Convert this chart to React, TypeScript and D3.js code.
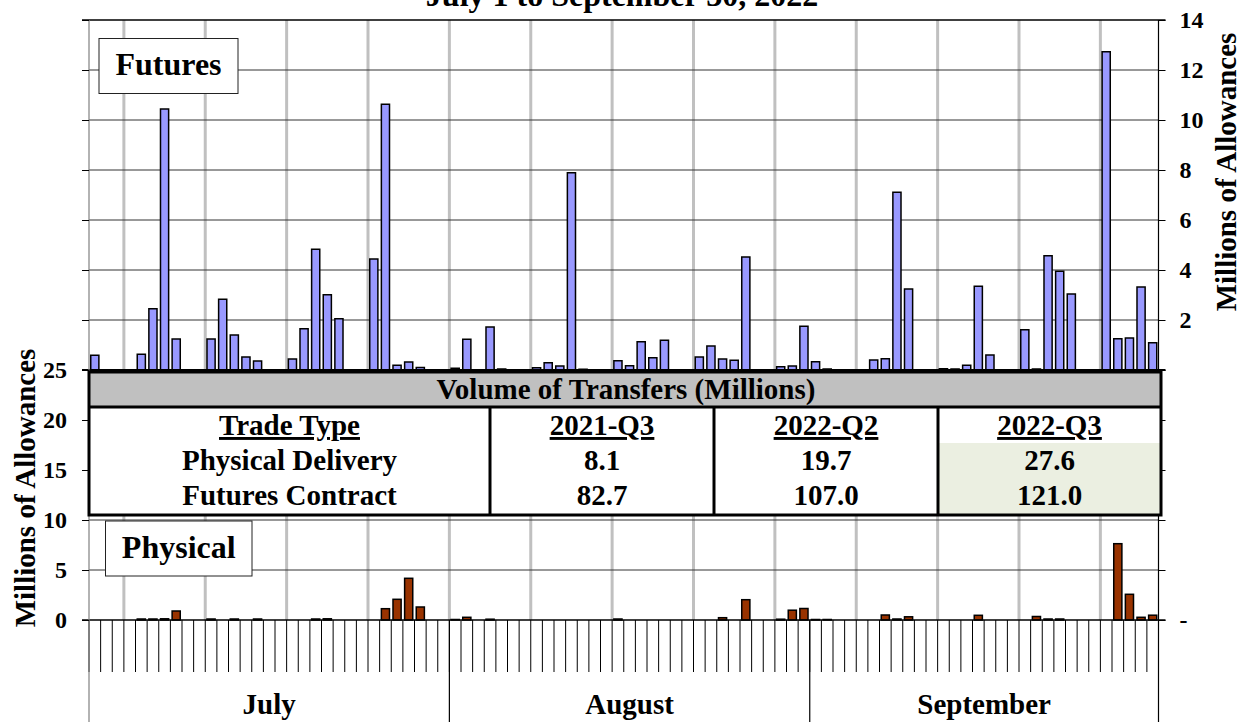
import React, { useEffect, useRef } from "react";
import * as d3 from "d3";

// daily trading days, July 1 - September 30, 2022 (weekends / holidays = 0)
const days = d3.timeDay.range(new Date(2022, 6, 1), new Date(2022, 9, 1));
const months = ["July", "August", "September"];

// Futures volume, millions of allowances (right axis)
const futures = [
  0.59, 0, 0, 0, 0.63, 2.45, 10.44, 1.24, 0, 0,
  1.24, 2.83, 1.4, 0.52, 0.36, 0, 0, 0.44, 1.65, 4.83,
  3.01, 2.05, 0, 0, 4.44, 10.63, 0.19, 0.32, 0.1, 0,
  0, 0.07, 1.23, 0, 1.72, 0.04, 0, 0, 0.09, 0.29,
  0.16, 7.89, 0.03, 0, 0, 0.37, 0.17, 1.13, 0.49, 1.19,
  0, 0, 0.52, 0.96, 0.44, 0.39, 4.52, 0, 0, 0.13,
  0.16, 1.75, 0.33, 0.04, 0, 0, 0, 0.4, 0.45, 7.11,
  3.24, 0, 0, 0.05, 0.04, 0.19, 3.35, 0.6, 0, 0,
  1.61, 0.04, 4.57, 3.95, 3.04, 0, 0, 12.73, 1.25, 1.28,
  3.32, 1.09,
];

// Physical delivery volume, millions of allowances (left axis)
const physical = [
  0, 0, 0, 0, 0.1, 0.1, 0.12, 0.9, 0, 0,
  0.1, 0, 0.1, 0, 0.1, 0, 0, 0, 0, 0.1,
  0.12, 0, 0, 0, 0, 1.13, 2.07, 4.17, 1.3, 0,
  0, 0.05, 0.27, 0, 0.08, 0, 0, 0, 0, 0,
  0, 0, 0, 0, 0, 0.1, 0, 0, 0, 0,
  0, 0, 0, 0, 0.23, 0, 2.03, 0, 0, 0.08,
  0.98, 1.15, 0.05, 0.05, 0, 0, 0, 0, 0.5, 0.1,
  0.32, 0, 0, 0, 0, 0, 0.47, 0, 0, 0,
  0, 0.35, 0.1, 0.1, 0, 0, 0, 0, 7.63, 2.57,
  0.27, 0.48,
];

// summary table
const title = "July 1 to September 30, 2022";
const tableTitle = "Volume of Transfers (Millions)";
const quarters = ["2021-Q3", "2022-Q2", "2022-Q3"];
const tradeTypes = ["Physical Delivery", "Futures Contract"];
const physicalTotals = [8.1, 19.7, 27.6];
const futuresTotals = [82.7, 107.0, 121.0];

const leftTicks = [0, 5, 10, 15, 20, 25, 30, 35, 40, 45, 50, 55, 60];
const rightTicks = [-10, -8, -6, -4, -2, 0, 2, 4, 6, 8, 10, 12, 14];

const FONT = "'Liberation Serif', 'Times New Roman', serif";

const App = () => {
  const ref = useRef<SVGSVGElement>(null);

  useEffect(() => {
    const svg = d3.select(ref.current);
    svg.selectAll("*").remove();

    const width = 1245;
    const height = 726;
    const left = 89;
    const right = 1158.5;
    const top = 20;
    const futBase = 370;
    const physBase = 620;

    const keys = days.map(d3.timeFormat("%Y-%m-%d"));
    const x = d3.scaleBand<string>().domain(keys).range([left, right]).padding(0);
    const step = x.step();
    const edge = (i: number) => left + i * step;
    const barW = x.bandwidth() * 0.7;
    const barOff = x.bandwidth() * 0.15;

    const yF = d3.scaleLinear().domain([0, 14]).range([futBase, top]);
    const yP = d3.scaleLinear().domain([0, 25]).range([physBase, futBase]);

    svg.attr("width", width).attr("height", height)
      .style("font-family", FONT).style("font-weight", "bold");
    svg.append("rect").attr("width", width).attr("height", height).attr("fill", "white");

    // title (clipped at the top of the page, as in the source image)
    svg.append("text")
      .attr("x", 622).attr("y", 6)
      .attr("text-anchor", "middle")
      .style("font-size", "32px")
      .text(title);

    // weekly vertical gridlines (Mondays)
    days.forEach((d, i) => {
      if (d.getDay() === 1) {
        svg.append("line")
          .attr("x1", edge(i)).attr("x2", edge(i))
          .attr("y1", top).attr("y2", physBase)
          .attr("stroke", "#c0c0c0").attr("stroke-width", 3);
      }
    });

    // horizontal gridlines
    [2, 4, 6, 8, 10, 12].forEach(v => {
      svg.append("line")
        .attr("x1", left).attr("x2", right)
        .attr("y1", yF(v)).attr("y2", yF(v))
        .attr("stroke", "#333").attr("stroke-width", 1);
    });
    [5, 10, 15, 20].forEach(v => {
      svg.append("line")
        .attr("x1", left).attr("x2", right)
        .attr("y1", yP(v)).attr("y2", yP(v))
        .attr("stroke", "#333").attr("stroke-width", 1);
    });

    // futures bars
    svg.selectAll("rect.fut")
      .data(keys.map((k, i) => ({ k, v: futures[i] })).filter(d => d.v > 0))
      .enter()
      .append("rect")
      .attr("class", "fut")
      .attr("x", d => (x(d.k) as number) + barOff)
      .attr("y", d => yF(d.v))
      .attr("width", barW)
      .attr("height", d => futBase - yF(d.v))
      .attr("fill", "#9999ff")
      .attr("stroke", "black")
      .attr("stroke-width", 1.5);

    // physical bars
    svg.selectAll("rect.phys")
      .data(keys.map((k, i) => ({ k, v: physical[i] })).filter(d => d.v > 0))
      .enter()
      .append("rect")
      .attr("class", "phys")
      .attr("x", d => (x(d.k) as number) + barOff)
      .attr("y", d => yP(d.v))
      .attr("width", barW)
      .attr("height", d => physBase - yP(d.v))
      .attr("fill", "#993300")
      .attr("stroke", "black")
      .attr("stroke-width", 1.5);

    // baselines
    svg.append("line").attr("x1", left - 7).attr("x2", right + 7)
      .attr("y1", futBase).attr("y2", futBase).attr("stroke", "black").attr("stroke-width", 2);
    svg.append("line").attr("x1", left - 7).attr("x2", right + 7)
      .attr("y1", physBase).attr("y2", physBase).attr("stroke", "black").attr("stroke-width", 1.5);
    svg.append("line").attr("x1", left - 7).attr("x2", right + 7)
      .attr("y1", top).attr("y2", top).attr("stroke", "black").attr("stroke-width", 1.5);

    // category ticks
    d3.range(keys.length + 1).forEach(i => {
      svg.append("line")
        .attr("x1", edge(i)).attr("x2", edge(i))
        .attr("y1", physBase).attr("y2", 672)
        .attr("stroke", "black").attr("stroke-width", 1);
    });

    // month separators & labels
    const monthStarts: number[] = [];
    days.forEach((d, i) => { if (d.getDate() === 1) monthStarts.push(i); });
    monthStarts.push(keys.length);
    monthStarts.forEach(i => {
      svg.append("line")
        .attr("x1", edge(i)).attr("x2", edge(i))
        .attr("y1", i === 0 || i === keys.length ? top : physBase).attr("y2", 722)
        .attr("stroke", i === 0 ? "#808080" : "black").attr("stroke-width", 1.2);
    });
    months.forEach((m, j) => {
      svg.append("text")
        .attr("x", (edge(monthStarts[j]) + edge(monthStarts[j + 1])) / 2)
        .attr("y", 714)
        .attr("text-anchor", "middle")
        .style("font-size", "29px")
        .text(m);
    });

    // left axis (physical)
    const yLeft = d3.scaleLinear().domain([0, 25]).range([physBase, futBase]);
    const gl = svg.append("g")
      .attr("transform", `translate(${left},0)`)
      .call(d3.axisLeft(yLeft).tickValues(leftTicks).tickSize(7).tickPadding(15)
        .tickFormat(v => (+v <= 25 ? String(v) : "")));
    gl.attr("font-family", null).attr("font-size", null);
    gl.select(".domain").remove();
    gl.selectAll("line").attr("stroke", "black");
    gl.selectAll("text").attr("fill", "black")
      .style("font-family", FONT).style("font-weight", "bold").style("font-size", "24px");

    // right axis (futures)
    const gr = svg.append("g")
      .attr("transform", `translate(${right},0)`)
      .call(d3.axisRight(yF).tickValues(rightTicks).tickSize(7).tickPadding(14)
        .tickFormat(v => (+v > 0 ? String(v) : +v === -10 ? "-" : "")));
    gr.attr("font-family", null).attr("font-size", null);
    gr.select(".domain").remove();
    gr.selectAll("line").attr("stroke", "black");
    gr.selectAll("text").attr("fill", "black")
      .style("font-family", FONT).style("font-weight", "bold").style("font-size", "24px");

    // axis titles
    svg.append("text")
      .attr("transform", "translate(35,488) rotate(-90)")
      .attr("text-anchor", "middle")
      .style("font-size", "29px")
      .text("Millions of Allowances");
    svg.append("text")
      .attr("transform", "translate(1236,172) rotate(-90)")
      .attr("text-anchor", "middle")
      .style("font-size", "29px")
      .text("Millions of Allowances");

    // series labels
    const labelBox = (x0: number, y0: number, w: number, h: number, t: string, by: number) => {
      svg.append("rect").attr("x", x0).attr("y", y0).attr("width", w).attr("height", h)
        .attr("fill", "white").attr("stroke", "#222").attr("stroke-width", 1);
      svg.append("text").attr("x", x0 + w / 2).attr("y", by)
        .attr("text-anchor", "middle")
        .style("font-size", "32px")
        .text(t);
    };
    labelBox(99, 38.5, 139, 55, "Futures", 75);
    labelBox(105.5, 521, 146.5, 55, "Physical", 558);

    // summary table
    const tL = 89, tR = 1161, tT = 372, tB = 515, hB = 407;
    const cols = [tL, 490, 714, 938, tR];
    svg.append("rect").attr("x", tL).attr("y", tT).attr("width", tR - tL).attr("height", tB - tT)
      .attr("fill", "white");
    svg.append("rect").attr("x", tL).attr("y", tT).attr("width", tR - tL).attr("height", hB - tT)
      .attr("fill", "#c0c0c0");
    svg.append("rect").attr("x", cols[3]).attr("y", 443).attr("width", tR - cols[3]).attr("height", tB - 443)
      .attr("fill", "#ebefe1");
    svg.append("rect").attr("x", tL).attr("y", tT).attr("width", tR - tL).attr("height", tB - tT)
      .attr("fill", "none").attr("stroke", "black").attr("stroke-width", 3);
    svg.append("line").attr("x1", tL).attr("x2", tR).attr("y1", hB).attr("y2", hB)
      .attr("stroke", "black").attr("stroke-width", 3);
    cols.slice(1, 4).forEach(c => {
      svg.append("line").attr("x1", c).attr("x2", c).attr("y1", hB).attr("y2", tB)
        .attr("stroke", "black").attr("stroke-width", 3);
    });

    const cell = (cx: number, by: number, t: string, underline = false) => {
      svg.append("text").attr("x", cx).attr("y", by)
        .attr("text-anchor", "middle")
        .style("font-size", "29px")
        .attr("text-decoration", underline ? "underline" : null)
        .text(t);
    };
    cell((tL + tR) / 2 + 1, 399, tableTitle);
    const mid = (j: number) => (cols[j] + cols[j + 1]) / 2;
    cell(mid(0), 435, "Trade Type", true);
    quarters.forEach((q, j) => cell(mid(j + 1), 435, q, true));
    cell(mid(0), 470, tradeTypes[0]);
    cell(mid(0), 505, tradeTypes[1]);
    physicalTotals.forEach((v, j) => cell(mid(j + 1), 470, v.toFixed(1)));
    futuresTotals.forEach((v, j) => cell(mid(j + 1), 505, v.toFixed(1)));
  }, []);

  return <svg ref={ref} style={{ position: "absolute", left: 0, top: 0 }}></svg>;
};

export default App;
